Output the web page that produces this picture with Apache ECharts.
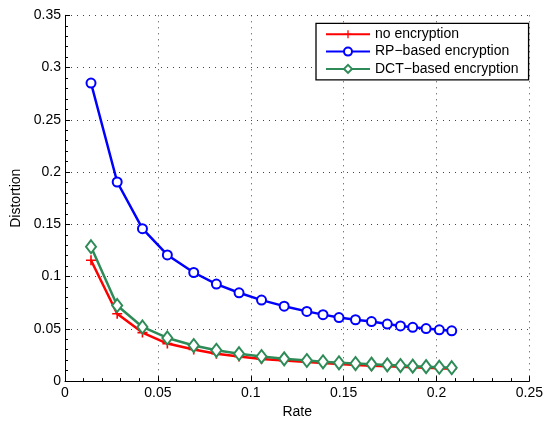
<!DOCTYPE html>
<html><head><meta charset="utf-8">
<script src="https://cdn.jsdelivr.net/npm/echarts@6/dist/echarts.min.js"></script>
<style>html,body{margin:0;padding:0;background:#fff}#c{width:546px;height:424px}</style>
</head><body><div id="c"></div>
<script>
const rates = [0.0140, 0.0281, 0.0417, 0.0551, 0.0693, 0.0815, 0.0937, 0.1058, 0.1180, 0.1302, 0.1389, 0.1475, 0.1564, 0.1650, 0.1735, 0.1806, 0.1872, 0.1944, 0.2015, 0.2082];
const noEnc = [0.1157, 0.0645, 0.0464, 0.0359, 0.0302, 0.0262, 0.0235, 0.0212, 0.0196, 0.0182, 0.0172, 0.0163, 0.0155, 0.0148, 0.0142, 0.0137, 0.0132, 0.0127, 0.0122, 0.0118];
const rpEnc = [0.2852, 0.1905, 0.1458, 0.1207, 0.1039, 0.0928, 0.0845, 0.0775, 0.0717, 0.0667, 0.0636, 0.0608, 0.0587, 0.0570, 0.0546, 0.0528, 0.0515, 0.0503, 0.0491, 0.0481];
const dctEnc = [0.1286, 0.0724, 0.0518, 0.0413, 0.0340, 0.0295, 0.0262, 0.0235, 0.0213, 0.0197, 0.0185, 0.0175, 0.0168, 0.0162, 0.0155, 0.0149, 0.0143, 0.0138, 0.0133, 0.0128];
const seriesNames = ['no encryption', 'RP\u2212based encryption', 'DCT\u2212based encryption'];
const xTitle = 'Rate', yTitle = 'Distortion';

const pair = (ys) => rates.map((x, i) => [x, ys[i]]);
const FONT = 'Liberation Sans, Arial, sans-serif';
const plus = 'path://M-0.8,-5 H0.8 V-0.8 H5 V0.8 H0.8 V5 H-0.8 V0.8 H-5 V-0.8 H-0.8 Z';

const chart = echarts.init(document.getElementById('c'), null, {renderer: 'canvas'});
chart.setOption({
  animation: false,
  backgroundColor: '#fff',
  textStyle: {fontFamily: FONT},
  grid: {left: 65, right: 16.5, top: 15.3, bottom: 41.3, containLabel: false},
  legend: {
    orient: 'vertical', left: 316, top: 23.3,
    backgroundColor: '#fff', borderColor: '#000', borderWidth: 1.3, borderRadius: 0,
    padding: [4, 10, 4, 9], itemGap: 3.3, itemWidth: 44, itemHeight: 10,
    textStyle: {fontSize: 14, lineHeight: 14, color: '#000', fontFamily: FONT},
    data: seriesNames
  },
  xAxis: {
    type: 'value', min: 0, max: 0.25, interval: 0.05,
    name: xTitle, nameLocation: 'middle', nameGap: 23,
    nameTextStyle: {fontSize: 14, color: '#000', fontFamily: FONT},
    axisLine: {show: true, onZero: false, lineStyle: {color: '#000', width: 1}},
    axisTick: {show: true, inside: true, length: 5, lineStyle: {color: '#000'}},
    minorTick: {show: true, splitNumber: 5, length: 3, lineStyle: {color: '#000'}},
    axisLabel: {fontSize: 14, color: '#000', margin: 5, fontFamily: FONT,
      formatter: v => String(+v.toFixed(2))},
    splitLine: {show: true, lineStyle: {color: '#444', type: [1, 5], width: 1}}
  },
  yAxis: {
    type: 'value', min: 0, max: 0.35, interval: 0.05,
    name: yTitle, nameLocation: 'middle', nameGap: 40, nameRotate: 90,
    nameTextStyle: {fontSize: 14, color: '#000', fontFamily: FONT},
    axisLine: {show: true, onZero: false, lineStyle: {color: '#000', width: 1}},
    axisTick: {show: true, inside: true, length: 5, lineStyle: {color: '#000'}},
    minorTick: {show: true, splitNumber: 5, length: 3, lineStyle: {color: '#000'}},
    axisLabel: {fontSize: 14, color: '#000', margin: 4, fontFamily: FONT,
      formatter: v => String(+v.toFixed(2))},
    splitLine: {show: true, lineStyle: {color: '#444', type: [1, 5], width: 1}}
  },
  series: [
    {name: seriesNames[0], type: 'line', data: pair(noEnc), z: 3,
     symbol: plus, symbolSize: 10, showAllSymbol: true,
     lineStyle: {color: '#ff0000', width: 2.5}, itemStyle: {color: '#ff0000'}},
    {name: seriesNames[1], type: 'line', data: pair(rpEnc), z: 4,
     symbol: 'emptyCircle', symbolSize: 9, showAllSymbol: true,
     lineStyle: {color: '#0000ff', width: 2.5}, itemStyle: {color: '#0000ff', borderWidth: 2.5}},
    {name: seriesNames[2], type: 'line', data: pair(dctEnc), z: 5,
     symbol: 'emptyDiamond', symbolSize: [10, 13], showAllSymbol: true,
     lineStyle: {color: '#2e8b57', width: 2.5}, itemStyle: {color: '#2e8b57', borderWidth: 2.5}}
  ]
});
</script></body></html>
